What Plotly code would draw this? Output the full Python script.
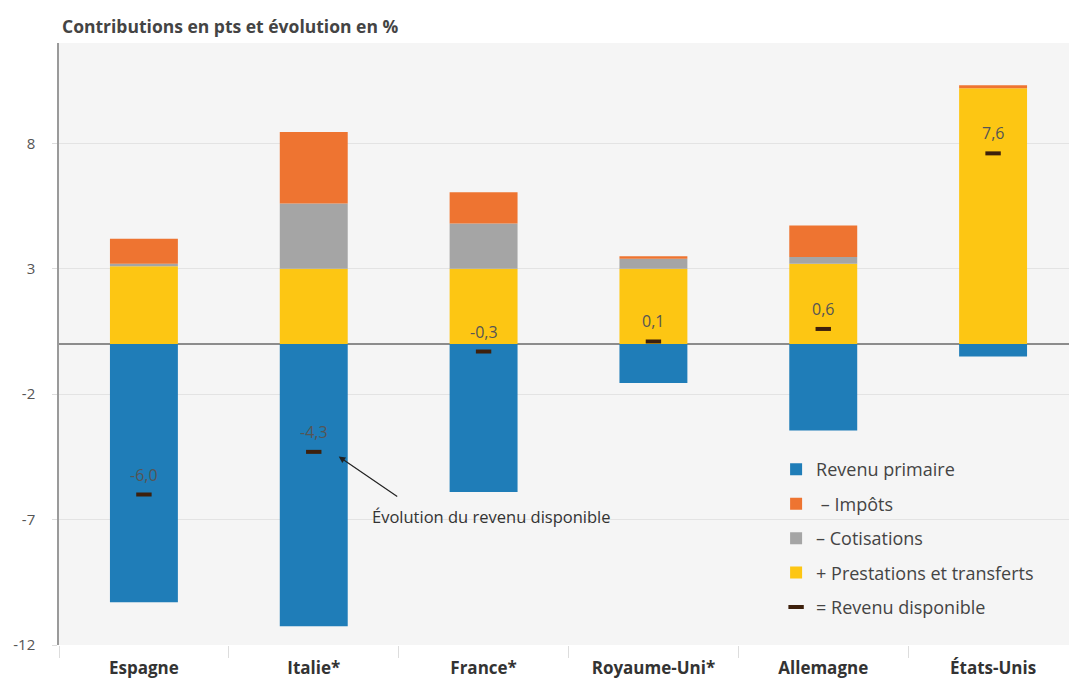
import plotly.graph_objects as go

categories = ["Espagne", "Italie*", "France*", "Royaume-Uni*", "Allemagne", "États-Unis"]
revenu_primaire = [-10.3, -11.25, -5.9, -1.55, -3.45, -0.5]
impots = [1.0, 2.85, 1.25, 0.1, 1.25, 0.12]
cotisations = [0.1, 2.6, 1.8, 0.4, 0.27, 0.0]
prestations = [3.1, 3.0, 3.0, 3.0, 3.2, 10.2]
revenu_disponible = [-6.0, -4.3, -0.3, 0.1, 0.6, 7.6]
labels_dispo = ["-6,0", "-4,3", "-0,3", "0,1", "0,6", "7,6"]
y_ticks = [-12, -7, -2, 3, 8]

FONT = "Open Sans"
C_BLUE = "#1f7db8"
C_ORANGE = "#ee7431"
C_GREY = "#a5a5a5"
C_YELLOW = "#fdc613"
C_DASH = "#3d200c"

fig = go.Figure()
common = dict(width=0.4, marker_line_width=0)
fig.add_trace(go.Bar(x=categories, y=revenu_primaire, name="Revenu primaire",
                     marker_color=C_BLUE, legendrank=1, legendgroup="a", **common))
fig.add_trace(go.Bar(x=categories, y=prestations, name="+ Prestations et transferts",
                     marker_color=C_YELLOW, legendrank=4, legendgroup="d", **common))
fig.add_trace(go.Bar(x=categories, y=cotisations, name="– Cotisations",
                     marker_color=C_GREY, legendrank=3, legendgroup="c", **common))
fig.add_trace(go.Bar(x=categories, y=impots, name=" – Impôts",
                     marker_color=C_ORANGE, legendrank=2, legendgroup="b", **common))
fig.add_trace(go.Scatter(x=categories, y=revenu_disponible, mode="markers",
                         name="= Revenu disponible", legendrank=5, legendgroup="e",
                         marker=dict(symbol="line-ew", size=11,
                                     line=dict(width=4, color=C_DASH))))

for c, v, t in zip(categories, revenu_disponible, labels_dispo):
    fig.add_annotation(x=c, y=v, text=t, showarrow=False, yshift=20,
                       font=dict(family=FONT, size=16, color="#555555"))

# arrow annotation
fig.add_annotation(x=1.147, y=-4.49, ax=60, ay=41, text="", showarrow=True,
                   arrowhead=2, arrowsize=1.1, arrowwidth=1.2, arrowcolor="#222222",
                   xref="x", yref="y")
fig.add_annotation(x=2.045, y=-6.87, text="Évolution du revenu disponible",
                   showarrow=False, font=dict(family=FONT, size=16.5, color="#333333"))

xt = ["<b>" + c + "</b>" for c in categories]

fig.update_layout(
    width=1069, height=679,
    barmode="relative",
    bargap=0.6,
    paper_bgcolor="white",
    plot_bgcolor="#f5f5f5",
    margin=dict(l=59, r=0, t=43, b=34),
    font=dict(family=FONT, color="#444444"),
    title=dict(text="<b>Contributions en pts et évolution en %</b>", x=0.058, xanchor="left",
               y=0.96, yanchor="middle", font=dict(family=FONT, size=17.5, color="#444444")),
    showlegend=True,
    legend=dict(x=0.71, y=0.322, xanchor="left", yanchor="top", bgcolor="rgba(0,0,0,0)",
                font=dict(family=FONT, size=18, color="#444444"), tracegroupgap=8,
                itemwidth=30),
)
fig.update_yaxes(range=[-12, 12], tickvals=y_ticks, ticktext=[str(v) for v in y_ticks],
                 showgrid=True, gridcolor="#e3e3e3", gridwidth=1,
                 zeroline=True, zerolinecolor="#8c8c8c", zerolinewidth=1.5,
                 showline=True, linecolor="#9a9a9a", linewidth=1.5,
                 ticks="outside", ticklen=5, tickcolor="#dddddd",
                 ticklabelstandoff=14,
                 tickfont=dict(family=FONT, size=15, color="#555555"))
fig.update_xaxes(range=[-0.5, 5.447], showgrid=False, tickson="boundaries",
                 tickvals=categories, ticktext=xt,
                 ticks="outside", ticklen=12, tickcolor="#dddddd",
                 showline=False, ticklabelstandoff=11,
                 tickfont=dict(family=FONT, size=17, color="#333333"))

fig.write_html("out.html")
